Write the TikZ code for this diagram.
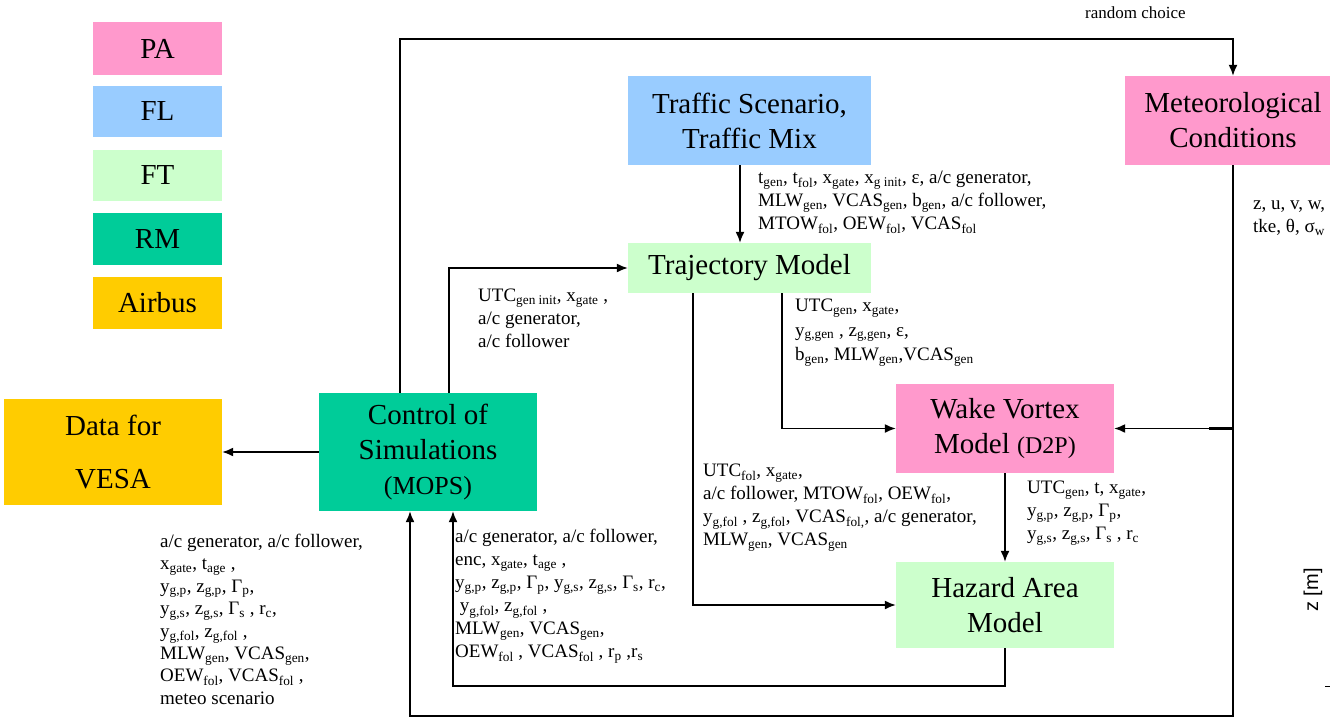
\documentclass[tikz,border=0pt]{standalone}
\usepackage{fontspec}
\setmainfont{LiberationSerif}[Extension=.ttf, UprightFont=*-Regular, BoldFont=*-Bold, ItalicFont=*-Italic, BoldItalicFont=*-BoldItalic]
\newfontfamily\axisfont{Liberation Sans}
\usetikzlibrary{arrows.meta}

\definecolor{pa}{HTML}{FF99CC}
\definecolor{fl}{HTML}{99CCFF}
\definecolor{ft}{HTML}{CCFFCC}
\definecolor{rm}{HTML}{00CC99}
\definecolor{airbus}{HTML}{FFCC00}

\newcommand{\ix}[1]{\textsubscript{#1}}
\newcommand{\boxfont}{\rmfamily\fontsize{29}{35}\selectfont}
\newcommand{\labfont}{\rmfamily\fontsize{19}{23}\selectfont}

\tikzset{
  box/.style={rectangle, inner sep=0pt, align=center, font=\boxfont},
  lab/.style={anchor=north west, inner sep=0pt, align=left, font=\labfont},
  link/.style={line width=1.5pt},
  arr/.style={link, -{Latex[length=11pt,width=9pt]}}
}

\begin{document}
\begin{tikzpicture}[x=1pt,y=-1pt]
\clip (0,0) rectangle (1330,718);
\fill[white] (0,0) rectangle (1330,718);

% legend
\node[box, fill=pa,     minimum width=129pt, minimum height=53pt] (legPA)     at (157.5,48.5)  {PA};
\node[box, fill=fl,     minimum width=129pt, minimum height=51pt] (legFL)     at (157.5,111.5) {FL};
\node[box, fill=ft,     minimum width=129pt, minimum height=51pt] (legFT)     at (157.5,175.5) {FT};
\node[box, fill=rm,     minimum width=129pt, minimum height=52pt] (legRM)     at (157.5,239)   {RM};
\node[box, fill=airbus, minimum width=129pt, minimum height=52pt] (legAirbus) at (157.5,303)   {Airbus};

% model blocks
\node[box, fill=fl, minimum width=243pt, minimum height=89pt] (traffic) at (749.5,120.5)
  {Traffic Scenario,\\Traffic Mix};
\node[box, fill=pa, minimum width=216pt, minimum height=89pt] (met) at (1233,120.5)
  {Meteorological\\Conditions};
\node[box, fill=ft, minimum width=243pt, minimum height=50pt] (traj) at (749.5,268)
  {Trajectory Model};
\node[box, fill=pa, minimum width=218pt, minimum height=89pt] (wake) at (1005,428.5)
  {Wake Vortex\\Model {\fontsize{24}{28}\selectfont(D2P)}};
\node[box, fill=ft, minimum width=218pt, minimum height=86pt] (hazard) at (1005,605)
  {Hazard Area\\Model};
\node[box, fill=rm, minimum width=218pt, minimum height=118pt] (control) at (428,452)
  {Control of\\Simulations\\{\fontsize{26}{29}\selectfont(MOPS)}};
\node[box, fill=airbus, minimum width=218pt, minimum height=106pt] (vesa) at (113,452)
  {Data for\\[18pt]VESA};

% bend points of the connectors
\coordinate (topL) at (400,39);
\coordinate (topR) at (1233,39);
\coordinate (ctrlUp) at (449,268);
\coordinate (trafDown) at (740,0);
\coordinate (trajWV) at (782,0);
\coordinate (trajHA) at (693,0);
\coordinate (haLoop) at (453,686);
\coordinate (metBot) at (1233,716);
\coordinate (botL) at (410,716);
\coordinate (joinA) at (1209,428.5);
\coordinate (joinB) at (1233,428.5);

% connectors
\draw[arr] (control.north -| topL) -- (topL) -- (topR) -- (met.north -| topR);
\draw[arr] (control.north -| ctrlUp) |- (traj.west);
\draw[arr] (traffic.south -| trafDown) -- (traj.north -| trafDown);
\draw[arr] (traj.south -| trajWV) |- (wake.west);
\draw[arr] (traj.south -| trajHA) |- (hazard.west);
\draw[arr] (wake.south) -- (hazard.north);
\draw[arr] (hazard.south) |- (haLoop) -- (control.south -| haLoop);
\draw[arr] (met.south -| metBot) -- (metBot) -- (botL) -- (control.south -| botL);
\draw[arr] (met.south -| metBot) |- (wake.east);
\draw[line width=3pt] (joinA) -- (joinB);
\draw[arr] (control.west) -- (vesa.east);

% connector labels
\node[lab, font=\rmfamily\fontsize{17}{20}\selectfont] (lRandom) at (1085,7) {random choice};
\node[lab] (lTraffic) at (758,171)
  {t\ix{gen}, t\ix{fol}, x\ix{gate}, x\ix{g init}, ε, a/c generator,\\
   MLW\ix{gen}, VCAS\ix{gen}, b\ix{gen}, a/c follower,\\
   MTOW\ix{fol}, OEW\ix{fol}, VCAS\ix{fol}};
\node[lab] (lMet) at (1253,201)
  {z, u, v, w,\\ tke, θ, σ\ix{w}};
\node[lab] (lCtrlTraj) at (478,289)
  {UTC\ix{gen init}, x\ix{gate} ,\\ a/c generator,\\ a/c follower};
\node[lab, font=\rmfamily\fontsize{19}{24.5}\selectfont] (lTrajWV) at (795,299)
  {UTC\ix{gen}, x\ix{gate},\\ y\ix{g,gen} , z\ix{g,gen}, ε,\\ b\ix{gen}, MLW\ix{gen},VCAS\ix{gen}};
\node[lab] (lTrajHA) at (703,464)
  {UTC\ix{fol}, x\ix{gate},\\
   a/c follower, MTOW\ix{fol}, OEW\ix{fol},\\
   y\ix{g,fol} , z\ix{g,fol}, VCAS\ix{fol,}, a/c generator,\\
   MLW\ix{gen}, VCAS\ix{gen}};
\node[lab] (lWVHA) at (1027,481)
  {UTC\ix{gen}, t, x\ix{gate},\\ y\ix{g,p}, z\ix{g,p}, Γ\ix{p},\\ y\ix{g,s}, z\ix{g,s}, Γ\ix{s} , r\ix{c}};
\node[lab, font=\rmfamily\fontsize{19}{22.4}\selectfont] (lMeteoLoop) at (160,534)
  {a/c generator, a/c follower,\\
   x\ix{gate}, t\ix{age} ,\\
   y\ix{g,p}, z\ix{g,p}, Γ\ix{p},\\
   y\ix{g,s}, z\ix{g,s}, Γ\ix{s} , r\ix{c},\\
   y\ix{g,fol}, z\ix{g,fol} ,\\
   MLW\ix{gen}, VCAS\ix{gen},\\
   OEW\ix{fol}, VCAS\ix{fol} ,\\
   meteo scenario};
\node[lab] (lHALoop) at (455,529)
  {a/c generator, a/c follower,\\
   enc, x\ix{gate}, t\ix{age} ,\\
   y\ix{g,p}, z\ix{g,p}, Γ\ix{p}, y\ix{g,s}, z\ix{g,s}, Γ\ix{s}, r\ix{c},\\
   \ y\ix{g,fol}, z\ix{g,fol} ,\\
   MLW\ix{gen}, VCAS\ix{gen},\\
   OEW\ix{fol} , VCAS\ix{fol} , r\ix{p} ,r\ix{s}};

% axis caption at the right border
\node[rotate=90, inner sep=0pt, font=\axisfont\fontsize{20}{24}\selectfont] (zAxis) at (1313,590) {z [m]};
\coordinate (tickA) at (1325,686);
\coordinate (tickB) at (1330,686);
\draw[line width=1pt] (tickA) -- (tickB);
\end{tikzpicture}
\end{document}
